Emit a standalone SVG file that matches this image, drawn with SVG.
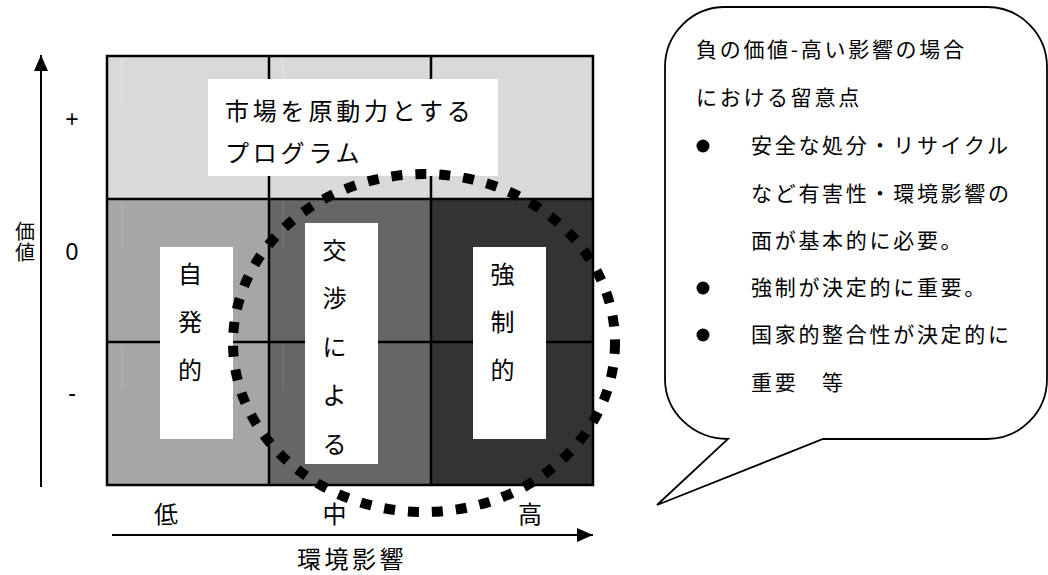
<svg xmlns="http://www.w3.org/2000/svg" width="1048" height="575" viewBox="0 0 1048 575">
<defs>
<style>
text{font-family:"Noto Sans CJK JP","Noto Sans",sans-serif;fill:#000}
.big{font-size:24px}
.sym{font-family:"Liberation Sans","Noto Sans",sans-serif;font-size:23px}
.call{font-size:21px;letter-spacing:2.7px}
.gl{stroke:#000;stroke-width:2.5;fill:none}
.faint{stroke-width:1;fill:none}
.wb{fill:#fff}
</style>
<marker id="ah" viewBox="0 0 16 14" refX="16" refY="7" markerWidth="16" markerHeight="14" markerUnits="userSpaceOnUse" orient="auto">
<path d="M0,0 L16,7 L0,14 Z" fill="#000"/>
</marker>
</defs>
<rect width="1048" height="575" fill="#fff"/>

<g id="grid">
<rect x="107" y="56" width="486" height="143" fill="#d9d9d9"/>
<rect x="107" y="199" width="162" height="286" fill="#a6a6a6"/>
<rect x="269" y="199" width="162" height="286" fill="#666666"/>
<rect x="431" y="199" width="162" height="286" fill="#333333"/>
<line x1="122" y1="58" x2="122" y2="103" class="faint" stroke="#e6e6e6"/>
<line x1="283" y1="58" x2="283" y2="103" class="faint" stroke="#e6e6e6"/>
<line x1="122" y1="201" x2="122" y2="248" class="faint" stroke="#b8b8b8"/>
<line x1="122" y1="345" x2="122" y2="390" class="faint" stroke="#b8b8b8"/>
<line x1="283" y1="201" x2="283" y2="248" class="faint" stroke="#7a7a7a"/>
<line x1="283" y1="345" x2="283" y2="390" class="faint" stroke="#7a7a7a"/>
<rect x="107" y="56" width="486" height="429" class="gl"/>
<line x1="269" y1="56" x2="269" y2="485" class="gl"/>
<line x1="431" y1="56" x2="431" y2="485" class="gl"/>
<line x1="107" y1="199" x2="593" y2="199" class="gl"/>
<line x1="107" y1="342" x2="593" y2="342" class="gl"/>
</g>

<g id="market">
<rect x="208" y="79" width="290" height="97" class="wb"/>
<text x="225" y="120" class="big" letter-spacing="3.8">市場を原動力とする</text>
<text x="225" y="162" class="big" letter-spacing="3.8">プログラム</text>
</g>

<g id="voluntary">
<rect x="160" y="247" width="73" height="192" class="wb"/>
<text class="big" text-anchor="middle"><tspan x="190" y="283">自</tspan><tspan x="190" y="331">発</tspan><tspan x="190" y="379">的</tspan></text>
</g>

<g id="negotiated">
<rect x="305" y="223" width="73" height="241" class="wb"/>
<text class="big" text-anchor="middle"><tspan x="334.5" y="259">交</tspan><tspan x="334.5" y="307">渉</tspan><tspan x="334.5" y="356">に</tspan><tspan x="334.5" y="404">よ</tspan><tspan x="334.5" y="453">る</tspan></text>
</g>

<g id="mandatory">
<rect x="473" y="247" width="73" height="192" class="wb"/>
<text class="big" text-anchor="middle"><tspan x="502.5" y="283">強</tspan><tspan x="502.5" y="331">制</tspan><tspan x="502.5" y="379">的</tspan></text>
</g>

<g id="focus-ellipse">
<ellipse cx="424" cy="343" rx="191" ry="169" fill="none" stroke="#000" stroke-width="10" stroke-dasharray="11 13"/>
</g>

<g id="connectors">
<line x1="41" y1="487" x2="41" y2="55" stroke="#000" stroke-width="2" marker-end="url(#ah)"/>
<line x1="112" y1="535" x2="593" y2="535" stroke="#000" stroke-width="2" marker-end="url(#ah)"/>
</g>

<g id="axis-labels">
<text x="72" y="127" class="sym" text-anchor="middle">+</text>
<text x="72" y="260" class="sym" text-anchor="middle">0</text>
<text x="72" y="401" class="sym" text-anchor="middle">-</text>
<text font-size="20" text-anchor="middle"><tspan x="25" y="239">価</tspan><tspan x="25" y="260">値</tspan></text>
<text x="166" y="523" class="big" text-anchor="middle">低</text>
<text x="334.5" y="523" class="big" text-anchor="middle">中</text>
<text x="530" y="523" class="big" text-anchor="middle">高</text>
<text x="352" y="568" class="big" text-anchor="middle" letter-spacing="3.5">環境影響</text>
</g>

<g id="callout">
<path d="M665,67 A60,60 0 0 1 725,7 H987 A60,60 0 0 1 1047,67 V379 A60,60 0 0 1 987,439 H823 L657,505 L728,439 A63,60 0 0 1 665,379 Z" fill="#fff" stroke="#000" stroke-width="1.8"/>
<text x="696" y="57" class="call">負の価値-高い影響の場合</text>
<text x="696" y="105" class="call">における留意点</text>
<circle cx="703" cy="146" r="6.5" fill="#000"/>
<text x="751" y="153" class="call">安全な処分・リサイクル</text>
<text x="751" y="201" class="call">など有害性・環境影響の</text>
<text x="751" y="248" class="call">面が基本的に必要。</text>
<circle cx="703" cy="288" r="6.5" fill="#000"/>
<text x="751" y="295" class="call">強制が決定的に重要。</text>
<circle cx="703" cy="335" r="6.5" fill="#000"/>
<text x="751" y="342" class="call">国家的整合性が決定的に</text>
<text x="751" y="390" class="call">重要　等</text>
</g>
</svg>
